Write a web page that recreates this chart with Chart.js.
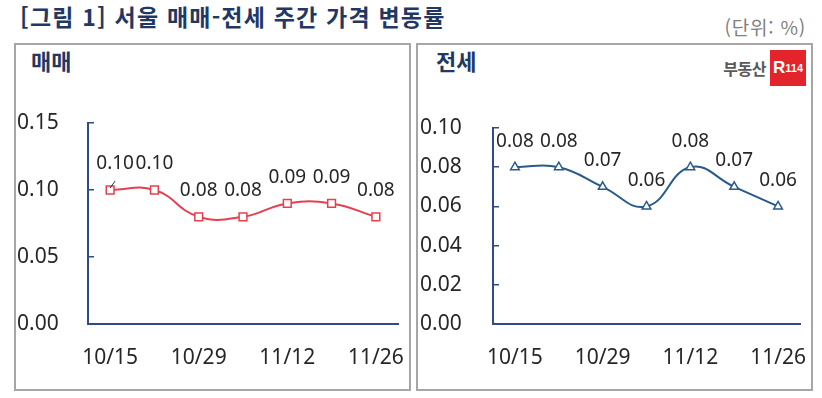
<!DOCTYPE html>
<html lang="ko">
<head>
<meta charset="utf-8">
<script src="https://cdn.jsdelivr.net/npm/chart.js@4.4.1/dist/chart.umd.min.js"></script>
<style>
  body { margin: 0; background: #fff; }
  #wrap { position: relative; width: 822px; height: 398px; overflow: hidden; font-family: "Noto Sans CJK KR", "Noto Sans", sans-serif; }
  .title { position: absolute; left: 20px; top: 1px; font-size: 23px; letter-spacing: 1.2px; font-weight: 700; color: #1f3864; line-height: 30px; white-space: nowrap; }
  .unit { position: absolute; right: 16px; top: 14px; font-size: 19px; letter-spacing: 0.8px; color: #808080; line-height: 26px; }
  .panel { position: absolute; top: 43px; width: 393px; height: 344px; border: 2px solid #a6a6a6; }
  .panel h2 { position: absolute; margin: 0; top: 0px; font-size: 22px; font-weight: 700; color: #1f3864; line-height: 30px; }
  .panel canvas { position: absolute; left: 0; top: 0; }
  .logo { position: absolute; right: 5px; top: 5px; height: 36px; display: flex; align-items: center; }
  .logo .txt { font-size: 16px; font-weight: 700; color: #595959; margin-right: 4px; letter-spacing: -0.5px; }
  .logo .box { width: 36px; height: 36px; background: #e3242b; color: #fff; font-family: "Liberation Sans", sans-serif; font-weight: 700; display: flex; align-items: center; justify-content: center; }
  .logo .box b { font-size: 17px; }
  .logo .box span { font-size: 11px; }
</style>
</head>
<body>
<div id="wrap">
  <div class="title">[그림 1] 서울 매매-전세 주간 가격 변동률</div>
  <div class="unit">(단위: %)</div>
  <div class="panel" style="left:14px">
    <h2 style="left:15px">매매</h2>
    <canvas id="saleChart" width="393" height="344"></canvas>
  </div>
  <div class="panel" style="left:416px">
    <h2 style="left:18px">전세</h2>
    <div class="logo"><span class="txt">부동산</span><div class="box"><b>R</b><span>114</span></div></div>
    <canvas id="jeonseChart" width="393" height="344"></canvas>
  </div>
</div>
<script>
const weeks = ["10/15", "10/22", "10/29", "11/5", "11/12", "11/19", "11/26"];
const saleValues = [0.10, 0.10, 0.08, 0.08, 0.09, 0.09, 0.08];
const jeonseValues = [0.08, 0.08, 0.07, 0.06, 0.08, 0.07, 0.06];
const saleTicks = { min: 0, max: 0.15, step: 0.05 };
const jeonseTicks = { min: 0, max: 0.10, step: 0.02 };

const AXIS = "#2f4b87";
const TEXT = "#262626";

// value labels above each point
const valueLabels = {
  id: "valueLabels",
  afterDatasetsDraw(chart, args, opts) {
    const { ctx } = chart;
    const meta = chart.getDatasetMeta(0);
    const vals = chart.data.datasets[0].data;
    ctx.save();
    ctx.font = '19px "Noto Sans"';
    ctx.fillStyle = TEXT;
    ctx.textAlign = "center";
    ctx.textBaseline = "middle";
    meta.data.forEach((pt, i) => {
      const dx = i === 0 && opts.leader ? 5 : 0;
      ctx.fillText(vals[i].toFixed(2), pt.x + dx, pt.y - 26);
    });
    if (opts.leader) {
      const p = meta.data[0];
      ctx.strokeStyle = "#333";
      ctx.lineWidth = 1;
      ctx.beginPath();
      ctx.moveTo(p.x, p.y - 2);
      ctx.lineTo(p.x + 5, p.y - 9);
      ctx.stroke();
    }
    ctx.restore();
  },
};

function makeChart(id, values, range, color, pointStyle, radius, padding, axisWidth, leader) {
  return new Chart(document.getElementById(id), {
    type: "line",
    data: {
      labels: weeks,
      datasets: [{
        data: values,
        borderColor: color,
        borderWidth: 2,
        tension: 0.45,
        pointStyle: pointStyle,
        pointRadius: radius,
        pointBackgroundColor: "#fff",
        pointBorderColor: color,
        pointBorderWidth: 1.5,
        clip: false,
      }],
    },
    options: {
      responsive: false,
      animation: false,
      devicePixelRatio: 1,
      layout: { padding: padding },
      plugins: { legend: { display: false }, tooltip: { enabled: false }, valueLabels: { leader } },
      scales: {
        x: {
          offset: true,
          grid: { display: true, drawOnChartArea: false, drawTicks: true, tickLength: 21, color: "rgba(0,0,0,0)" },
          border: { display: true, color: AXIS, width: 2 },
          ticks: {
            autoSkip: false,
            maxRotation: 0,
            padding: 0,
            color: TEXT,
            font: { family: "Noto Sans", size: 21 },
            callback: (v, i) => (i % 2 === 0 ? weeks[i] : ""),
          },
          afterFit: (s) => { s.height = 46; },
        },
        y: {
          min: range.min,
          max: range.max,
          grid: { drawOnChartArea: false, drawTicks: true, tickLength: -6, color: AXIS, lineWidth: 1.5 },
          border: { display: true, color: AXIS, width: 2 },
          ticks: {
            stepSize: range.step,
            crossAlign: "far",
            color: TEXT,
            font: { family: "Noto Sans", size: 21 },
            callback: (v) => v.toFixed(2),
          },
          afterFit: (s) => { s.width = axisWidth; },
        },
      },
    },
    plugins: [valueLabels],
  });
}

makeChart("saleChart", saleValues, saleTicks, "#e5404f", "rect", 5.5,
  { left: 1, right: 11, top: 78, bottom: 19 }, 71, true);
makeChart("jeonseChart", jeonseValues, jeonseTicks, "#285a8c", "triangle", 5,
  { left: 2, right: 11, top: 83, bottom: 19 }, 73, false);
</script>
</body>
</html>
